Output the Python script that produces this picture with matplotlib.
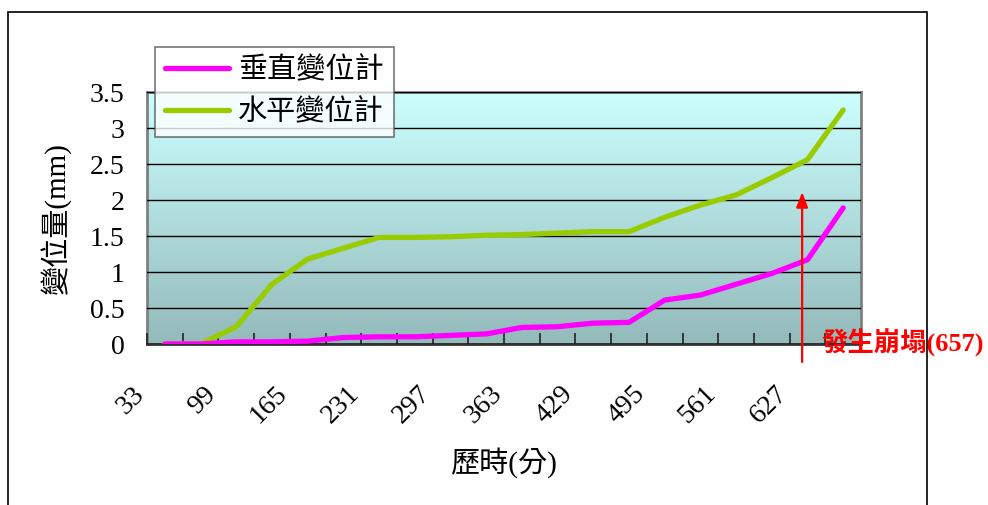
import numpy as np
import matplotlib.pyplot as plt
from matplotlib.patches import Rectangle
from matplotlib.transforms import ScaledTranslation

plt.rcParams['font.family'] = ['Liberation Serif', 'Noto Sans CJK TC']

# 歷時(分)
minutes = [33, 66, 99, 132, 165, 198, 231, 264, 297, 330,
           363, 396, 429, 462, 495, 528, 561, 594, 627, 660]
# 垂直變位計 (mm)
vertical = [0.0, 0.0, 0.03, 0.03, 0.04, 0.09, 0.10, 0.10, 0.12, 0.14,
            0.23, 0.24, 0.29, 0.30, 0.61, 0.68, 0.83, 0.98, 1.17, 1.89]
# 水平變位計 (mm)
horizontal = [0.0, 0.0, 0.24, 0.83, 1.18, 1.33, 1.48, 1.48, 1.49, 1.51,
              1.52, 1.54, 1.56, 1.56, 1.76, 1.93, 2.07, 2.31, 2.56, 3.25]
series_names = ['垂直變位計', '水平變位計']
collapse_note = '發生崩塌(657)'

fig = plt.figure(figsize=(9.88, 5.05), dpi=100)
ax = fig.add_axes([0.1488, 0.3188, 0.7227, 0.4990])

# 外框
fig.patches.append(Rectangle((0.0081, -0.1), 0.930, 1.076, transform=fig.transFigure,
                             fill=False, edgecolor='black', linewidth=1.2))

# 漸層背景
top = np.array([204, 255, 255]) / 255
bottom = np.array([148, 186, 186]) / 255
t = np.linspace(0, 1, 256)[:, None]
grad = (top * (1 - t) + bottom * t)[:, None, :]
ax.imshow(grad, aspect='auto', extent=[0, 1, 0, 1], transform=ax.transAxes, zorder=0)

x = np.arange(len(minutes))
ax.plot(x, vertical, color='#FF00FF', linewidth=3.8, solid_capstyle='round',
        label=series_names[0], zorder=4)
ax.plot(x, horizontal, color='#99CC00', linewidth=3.8, solid_capstyle='round',
        label=series_names[1], zorder=3)

ax.set_xlim(-0.5, len(minutes) - 0.5)
ax.set_ylim(0, 3.5)
ax.set_yticks(np.arange(0, 3.51, 0.5))
ax.set_yticklabels(['0', '0.5', '1', '1.5', '2', '2.5', '3', '3.5'])
ax.yaxis.grid(True, color='black', linewidth=1.0)
ax.set_axisbelow(False)
ax.tick_params(axis='y', length=0, pad=16, labelsize=20)

ax.set_xticks(x[::2])
ax.set_xticklabels([str(m) for m in minutes[::2]])
ax.set_xticks(np.arange(-0.5, len(minutes), 1.0), minor=True)
ax.tick_params(axis='x', which='major', length=0, pad=27, labelsize=20)
ax.tick_params(axis='x', which='minor', direction='in', length=8, width=1.2, color='#222222')
shift = ScaledTranslation(-0.15, 0, fig.dpi_scale_trans)
for lab in ax.get_xticklabels():
    lab.set_rotation(45)
    lab.set_ha('right')
    lab.set_va('top')
    lab.set_transform(lab.get_transform() + shift)

for s in ax.spines.values():
    s.set_color('#808080')
    s.set_linewidth(2)
ax.spines['bottom'].set_color('#333333')

ax.set_xlabel('歷時(分)', fontsize=21, labelpad=13)
ax.set_ylabel('變位量(mm)', fontsize=21, labelpad=14)

leg = ax.legend(loc='upper left', bbox_to_anchor=(0.011, 1.18), fontsize=21,
                frameon=True, fancybox=False, handlelength=2.2, handletextpad=0.3,
                borderpad=0.35, labelspacing=0.5, borderaxespad=0)
leg.get_frame().set_edgecolor('#555555')
leg.get_frame().set_linewidth(1.2)
leg.set_zorder(10)

# 崩塌時間標示
arrow_x = 17.85
ax.annotate('', xy=(arrow_x, 2.11), xytext=(arrow_x, -0.25),
            xycoords='data', textcoords='data', annotation_clip=False,
            arrowprops=dict(arrowstyle='-|>,head_width=0.35,head_length=0.9',
                            color='red', linewidth=1.6, shrinkA=0, shrinkB=0),
            zorder=6)
ax.text(18.4, 0.02, collapse_note, color='red', fontsize=19, fontweight='bold',
        ha='left', va='center', clip_on=False, zorder=7)

fig.savefig('out.png', dpi=100)
